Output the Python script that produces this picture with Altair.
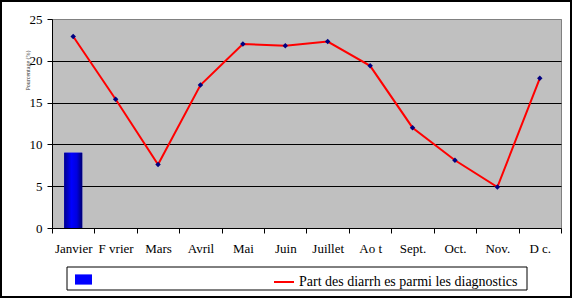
import altair as alt
import pandas as pd

mois = ["Janvier", "F vrier", "Mars", "Avril", "Mai", "Juin", "Juillet",
        "Ao t", "Sept.", "Oct.", "Nov.", "D c."]
part_diarrhees = [22.9, 15.4, 7.6, 17.1, 22.0, 21.8, 22.3, 19.4, 12.0, 8.1, 4.9, 17.9]
barre = [9, None, None, None, None, None, None, None, None, None, None, None]
y_ticks = [0, 5, 10, 15, 20, 25]
serie_ligne = "Part des diarrh es parmi les diagnostics"
serie_barre = "barre"
titre_y = "Pourcentage (%)"

df = pd.DataFrame({
    "mois": mois,
    "part": part_diarrhees,
    "barre": barre,
    "serie": [serie_ligne] * len(mois),
    "serie_b": [serie_barre] * len(mois),
})

FONT = "Liberation Serif"

x_enc = alt.X(
    "mois:N", sort=mois, title=None,
    scale=alt.Scale(paddingInner=0, paddingOuter=0),
    axis=alt.Axis(labelAngle=0, tickBand="extent", labelPadding=9, tickSize=5,
                  domainColor="black", tickColor="black", labelFont=FONT,
                  labelFontSize=13, labelColor="black", grid=False),
)
y_scale = alt.Scale(domain=[0, 25], nice=False)
y_axis = alt.Axis(values=y_ticks, grid=True,
                  gridColor={"condition": {"test": "datum.value === 25 || datum.value === 0", "value": "#808080"}, "value": "black"},
                  domainColor="black", tickColor="black", tickSize=5, labelPadding=5,
                  labelFont=FONT, labelFontSize=13, labelColor="black",
                  title=titre_y, titleFont=FONT, titleFontSize=6, titleFontWeight="normal",
                  titleColor="#333333", titleX=-22, titleY=51)

base = alt.Chart(df)

bar_legend = base.mark_bar(size=18).encode(
    x=x_enc,
    y=alt.Y("barre:Q", scale=y_scale, axis=y_axis),
    fill=alt.Fill("serie_b:N", scale=alt.Scale(domain=[serie_barre], range=["#0000FF"]),
                  legend=alt.Legend(orient="none", legendX=23, legendY=252, title=None,
                                    labelExpr="''", symbolType="M-1,-0.6H1V0.6H-1Z",
                                    symbolSize=289, symbolStrokeWidth=0, padding=0,
                                    symbolOpacity=1)),
)

grad = alt.Gradient(
    gradient="linear",
    stops=[alt.GradientStop(color="#00008B", offset=0),
           alt.GradientStop(color="#0000FF", offset=0.4),
           alt.GradientStop(color="#0000E0", offset=0.7),
           alt.GradientStop(color="#000070", offset=1)],
    x1=0, x2=1, y1=0, y2=0,
)
bar_grad = base.mark_bar(size=18, color=grad).encode(
    x=x_enc,
    y=alt.Y("barre:Q", scale=y_scale),
)

line = base.mark_line(strokeWidth=2, interpolate="linear").encode(
    x=x_enc,
    y=alt.Y("part:Q", scale=y_scale),
    stroke=alt.Stroke("serie:N", scale=alt.Scale(domain=[serie_ligne], range=["#FF0000"]),
                      legend=alt.Legend(orient="none", legendX=221, legendY=252, title=None,
                                        symbolType="stroke", symbolSize=400,
                                        symbolStrokeWidth=2, labelFont=FONT,
                                        labelFontSize=14, labelColor="black",
                                        labelOffset=4, padding=0, labelLimit=0)),
)

points = base.mark_point(shape="diamond", filled=True, size=30, color="#000080", opacity=1).encode(
    x=x_enc,
    y=alt.Y("part:Q", scale=y_scale),
)

frame_df = pd.DataFrame({"a": [0]})
legend_box = alt.Chart(frame_df).mark_rect(fill=None, stroke="black", strokeWidth=1).encode(
    x=alt.value(15), x2=alt.value(475), y=alt.value(248), y2=alt.value(271)
)
outer_box = alt.Chart(frame_df).mark_rect(fill=None, stroke="black", strokeWidth=2).encode(
    x=alt.value(-51), x2=alt.value(519), y=alt.value(-18), y2=alt.value(278)
)

chart = alt.layer(bar_legend, bar_grad, line, points, legend_box, outer_box).properties(
    width=509, height=209,
    autosize=alt.AutoSizeParams(type="none"),
    padding={"left": 52, "top": 19, "right": 12, "bottom": 71},
    background="white",
).configure_view(fill="#C0C0C0", stroke="#808080", strokeWidth=1)

chart.save("out.html", embed_options={"renderer": "svg", "actions": False})
